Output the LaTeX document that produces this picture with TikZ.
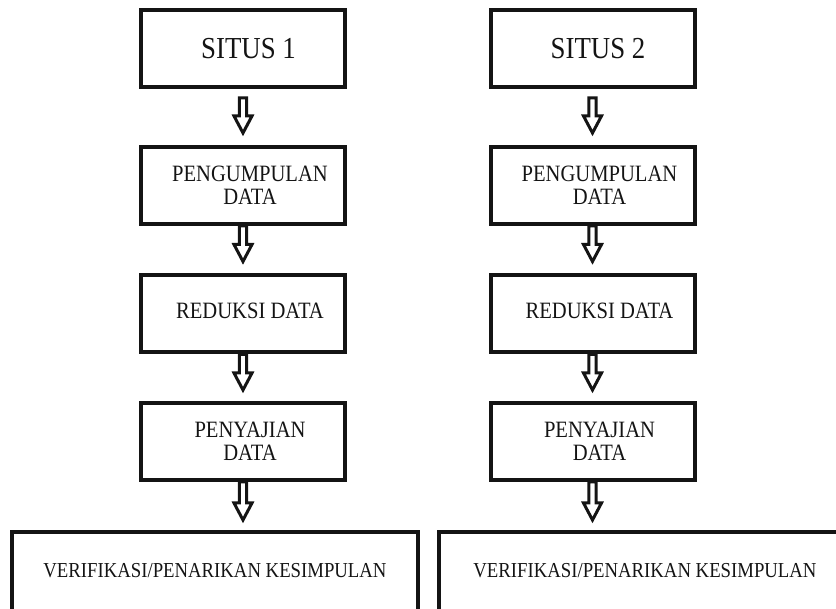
\documentclass[tikz,border=0pt]{standalone}
\usepackage{fontspec}
\setmainfont{Liberation Serif}
\newfontfamily\boxfont{Liberation Serif}[FakeStretch=0.88]
\usetikzlibrary{positioning,calc}
\definecolor{ink}{HTML}{141414}
\tikzset{stage/.style={draw=ink,line width=4pt,minimum width=204pt,minimum height=77pt,inner sep=0pt}, flow/.style={draw=ink,line width=3pt,line join=miter,fill=white,to path={let \p1=(\tikztostart),\p2=(\tikztotarget) in (\x1-3.6pt,\y1) -- (\x1+3.6pt,\y1) -- (\x1+3.6pt,\y2+17pt) -- (\x1+9pt,\y2+17pt) -- (\x1,\y2) -- (\x1-9pt,\y2+17pt) -- (\x1-3.6pt,\y2+17pt) -- cycle}}, tag/.style={align=center,text=ink,inner sep=0pt,font=\boxfont\fontsize{23.4}{23}\selectfont}}

\begin{document}
\begin{tikzpicture}[x=1pt,y=-1pt]
\useasboundingbox (0,0) rectangle (836,609);
\clip (0,0) rectangle (836,609);
% situs 1
\node[stage,label={[tag,name=s1t,xshift=5.5pt,font=\boxfont\fontsize{30.5}{36}\selectfont]center:SITUS 1}] (s1) at (243,48.5) {};
\node[stage,label={[tag,name=p1t,xshift=7pt]center:PENGUMPULAN\\DATA}] (p1) at (243,185.5) {};
\node[stage,label={[tag,name=r1t,xshift=7pt,yshift=3pt]center:REDUKSI DATA}] (r1) at (243,314) {};
\node[stage,label={[tag,name=y1t,xshift=7pt]center:PENYAJIAN\\DATA}] (y1) at (243,441.5) {};
\node[stage,minimum width=406pt,minimum height=90pt,label={[tag,name=v1t,yshift=6.5pt,font=\boxfont\fontsize{21.3}{24}\selectfont]center:VERIFIKASI/PENARIKAN KESIMPULAN}] (v1) at (215,577) {};
% situs 2
\node[stage,label={[tag,name=s2t,xshift=5.5pt,font=\boxfont\fontsize{30.5}{36}\selectfont]center:SITUS 2}] (s2) at (592.5,48.5) {};
\node[stage,label={[tag,name=p2t,xshift=7pt]center:PENGUMPULAN\\DATA}] (p2) at (592.5,185.5) {};
\node[stage,label={[tag,name=r2t,xshift=7pt,yshift=3pt]center:REDUKSI DATA}] (r2) at (592.5,314) {};
\node[stage,label={[tag,name=y2t,xshift=7pt]center:PENYAJIAN\\DATA}] (y2) at (592.5,441.5) {};
\node[stage,minimum width=412pt,minimum height=90pt,label={[tag,name=v2t,yshift=6.5pt,font=\boxfont\fontsize{21.3}{24}\selectfont]center:VERIFIKASI/PENARIKAN KESIMPULAN}] (v2) at (645,577) {};
% arrows
\foreach \col in {1,2}{
  \draw[flow] ([yshift=-9pt]s\col.south) to ([yshift=12pt]p\col.north);
  \draw[flow] (p\col.south) to ([yshift=12pt]r\col.north);
  \draw[flow] (r\col.south) to ([yshift=11pt]y\col.north);
  \draw[flow] (y\col.south) to ([yshift=10pt]v\col.north);
}
\end{tikzpicture}
\end{document}
